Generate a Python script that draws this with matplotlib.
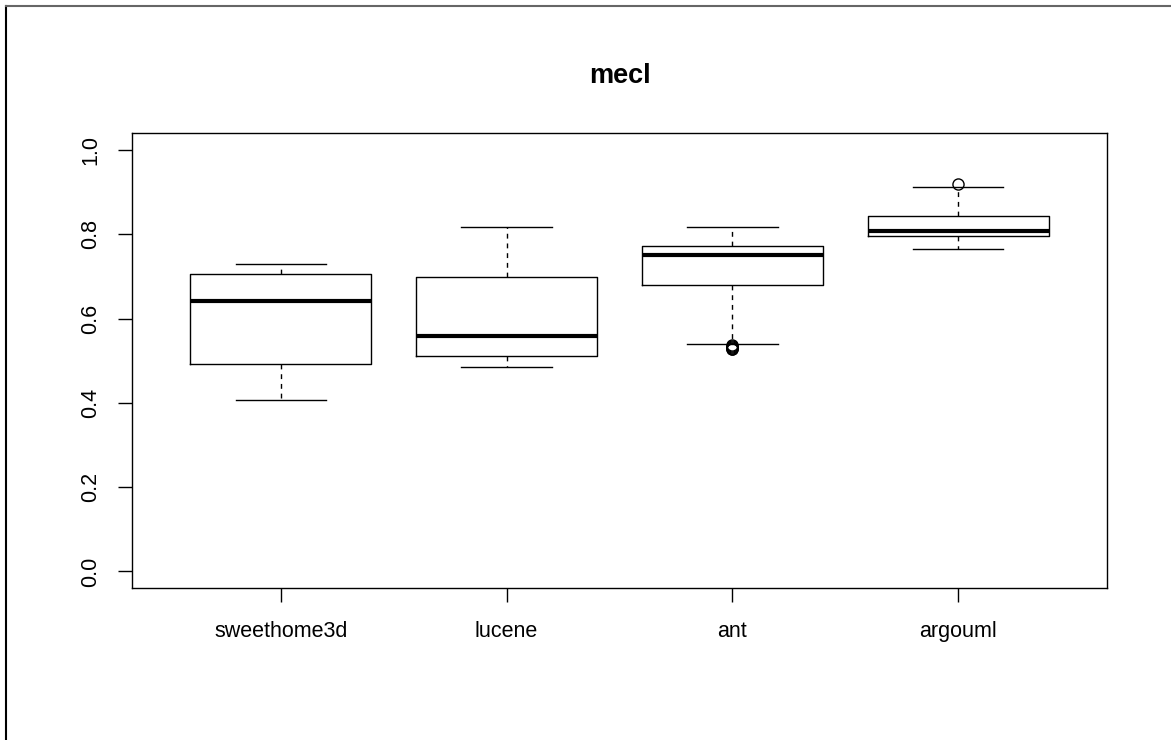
import matplotlib
matplotlib.use("Agg")
import matplotlib.pyplot as plt
from matplotlib.lines import Line2D

# values (R-style boxplot summary)
projects = ["sweethome3d", "lucene", "ant", "argouml"]
whisker_low = [0.406, 0.485, 0.539, 0.766]
q1 = [0.4925, 0.512, 0.680, 0.796]
median = [0.643, 0.558, 0.751, 0.809]
q3 = [0.707, 0.699, 0.7735, 0.843]
whisker_high = [0.729, 0.818, 0.818, 0.913]
outliers = [[], [], [0.537, 0.535, 0.533, 0.531, 0.529, 0.527], [0.919]]

yticks = [0.0, 0.2, 0.4, 0.6, 0.8, 1.0]

plt.rcParams['font.family'] = ['Liberation Sans', 'DejaVu Sans']

fig = plt.figure(figsize=(11.71, 7.40), dpi=100)
ax = fig.add_axes([0.1125, 0.205, 0.8331, 0.6149])

stats = []
for i, name in enumerate(projects):
    stats.append(dict(label=name, whislo=whisker_low[i], q1=q1[i], med=median[i],
                      q3=q3[i], whishi=whisker_high[i], fliers=outliers[i]))

ax.bxp(stats, positions=range(1, len(projects) + 1), widths=0.8,
       showfliers=True,
       boxprops=dict(color='black', linewidth=1.0),
       medianprops=dict(color='black', linewidth=3.0, solid_capstyle='butt'),
       whiskerprops=dict(color='black', linewidth=1.0, linestyle=(0, (3.5, 3.5))),
       capprops=dict(color='black', linewidth=1.0),
       capwidths=0.4,
       flierprops=dict(marker='o', markerfacecolor='none', markeredgecolor='black',
                       markersize=8, markeredgewidth=1.0, linestyle='none'))

ax.set_xlim(0.34, 4.66)
ax.set_ylim(-0.04, 1.04)
ax.set_yticks(yticks)
ax.set_yticklabels([f"{v:.1f}" for v in yticks], rotation=90, va='center')
ax.set_xticks(range(1, len(projects) + 1))
ax.set_xticklabels(projects)
ax.tick_params(axis='both', length=10.4, width=1.0, labelsize=15.5, color='black')
ax.tick_params(axis='x', pad=13)
ax.tick_params(axis='y', pad=11.5)
for s in ax.spines.values():
    s.set_linewidth(1.0)

ax.set_title("mecl", fontsize=19.5, fontweight='bold', pad=36)

# screenshot frame on the left and top edge
fig.add_artist(Line2D([6 / 1171, 6 / 1171], [0, 1 - 6 / 740], color='black', lw=1.5,
                      transform=fig.transFigure))
fig.add_artist(Line2D([6 / 1171, 1], [1 - 6 / 740, 1 - 6 / 740], color='#666666', lw=1.5,
                      transform=fig.transFigure))

fig.savefig("out.png", dpi=100)
